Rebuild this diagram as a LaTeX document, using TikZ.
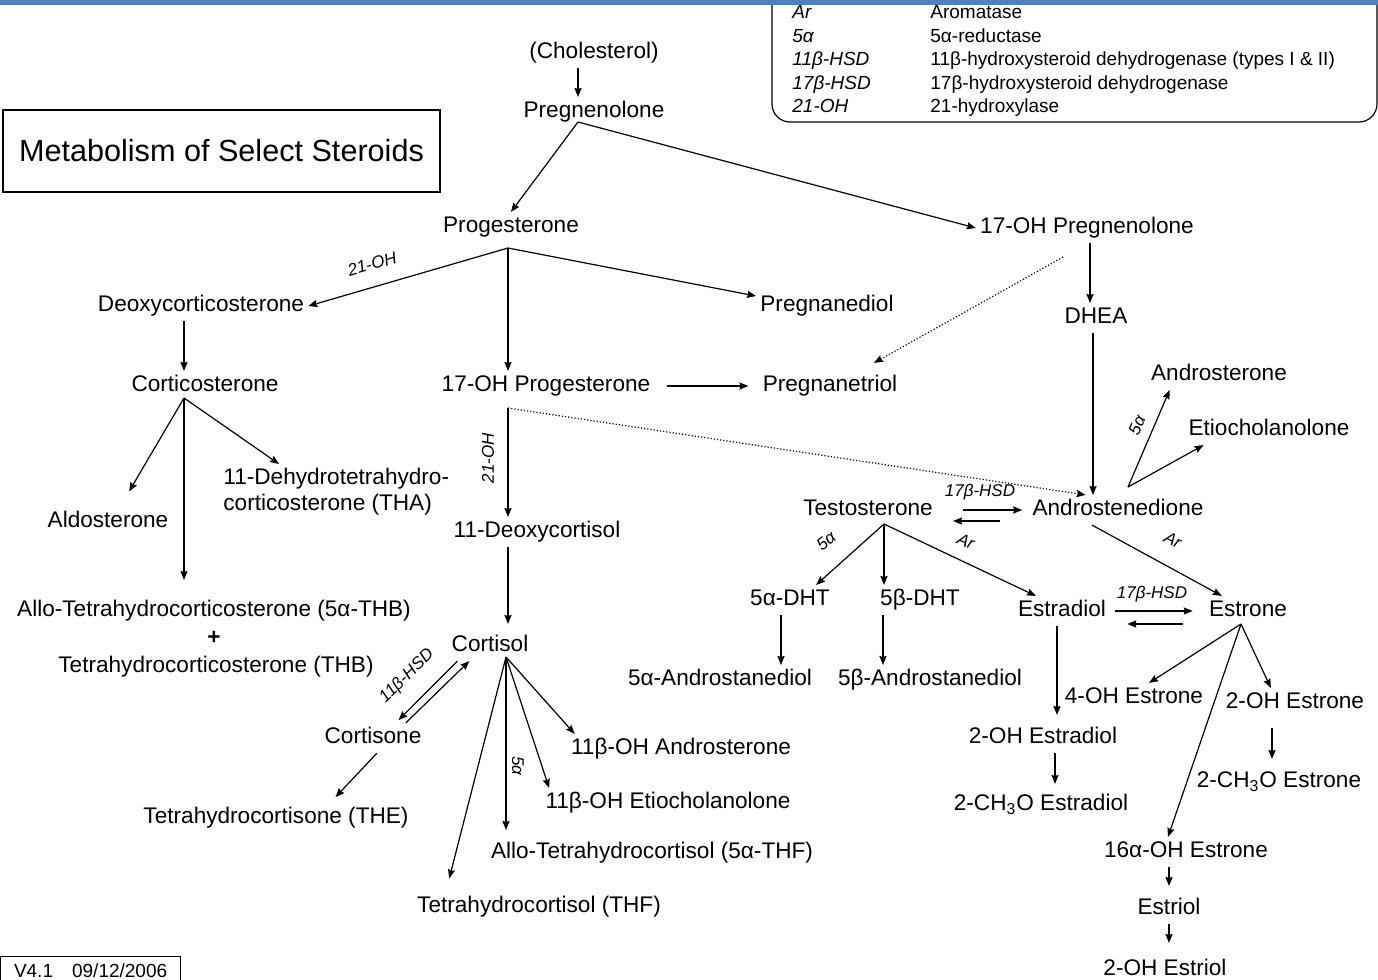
\documentclass[tikz,border=0pt]{standalone}
\usepackage{fontspec}
\setmainfont{Liberation Sans}
\usetikzlibrary{arrows.meta}
\definecolor{topbar}{RGB}{79,129,189}

\begin{document}
\begin{tikzpicture}[x=0.5pt,y=-0.5pt]
\tikzstyle{every node}+=[inner sep=2pt]
\tikzstyle{cmpd}=[font=\fontsize{11.3}{13}\selectfont, text height=8.3pt, text depth=2.4pt, yshift=-1pt]
\tikzstyle{enz}=[font=\fontsize{8.5}{10}\selectfont\itshape, inner sep=1pt]
\tikzstyle{arr}=[-{Stealth[length=4.5pt,width=3.6pt,inset=0.6pt]}, line width=0.6pt]
\tikzstyle{dotarr}=[arr, densely dotted]
\tikzstyle{key}=[font=\fontsize{9.5}{11}\selectfont, anchor=west, inner sep=0pt, text height=7pt, text depth=2pt]
\tikzstyle{keyi}=[key, font=\fontsize{9.5}{11}\selectfont\itshape]
\useasboundingbox (0,0) rectangle (1378,980);
% legend
\draw [line width=0.6pt, rounded corners=9pt] (772,-20) rectangle (1377,122);
\node [keyi] (kar) at (792,13) {Ar};
\node [key] (kard) at (930,13) {Aromatase};
\node [keyi] (kfa) at (792,37) {5α};
\node [key] (kfad) at (930,37) {5α-reductase};
\node [keyi] (kel) at (792,60) {11β-HSD};
\node [key] (keld) at (930,60) {11β-hydroxysteroid dehydrogenase (types I \& II)};
\node [keyi] (ksv) at (792,84) {17β-HSD};
\node [key] (ksvd) at (930,84) {17β-hydroxysteroid dehydrogenase};
\node [keyi] (ktw) at (792,107) {21-OH};
\node [key] (ktwd) at (930,107) {21-hydroxylase};
\fill [topbar] (0,0) rectangle (1378,5);
% title and version
\node [draw, line width=1.1pt, minimum width=218.5pt, minimum height=41pt, font=\fontsize{15.3}{18}\selectfont] (title) at (221.5,151) {Metabolism of Select Steroids};
\node [draw, line width=0.6pt, anchor=north west, minimum width=90pt, minimum height=14pt, inner sep=1pt, font=\fontsize{9.5}{11}\selectfont] (ver) at (0,956) {V4.1\quad 09/12/2006};
% compounds
\node [cmpd] (chol) at (594,51) {(Cholesterol)};
\node [cmpd] (preg) at (594,110) {Pregnenolone};
\node [cmpd] (prog) at (511,225) {Progesterone};
\node [cmpd] (ohpreg) at (1087,226) {17-OH Pregnenolone};
\node [cmpd] (doc) at (201,304) {Deoxycorticosterone};
\node [cmpd] (pdiol) at (827,304) {Pregnanediol};
\node [cmpd] (dhea) at (1096,316) {DHEA};
\node [cmpd] (cortic) at (205,384) {Corticosterone};
\node [cmpd] (ohprog) at (546,384) {17-OH Progesterone};
\node [cmpd] (ptriol) at (830,384) {Pregnanetriol};
\node [cmpd] (aster) at (1219,373) {Androsterone};
\node [cmpd] (etio) at (1269,428) {Etiocholanolone};
\node [font=\fontsize{11.3}{13}\selectfont, align=left, anchor=north west] (tha) at (219,464) {11-Dehydrotetrahydro-\\corticosterone (THA)};
\node [cmpd] (aldo) at (108,520) {Aldosterone};
\node [cmpd] (doxc) at (537,530) {11-Deoxycortisol};
\node [cmpd] (testo) at (868,508) {Testosterone};
\node [cmpd] (andro) at (1118,508) {Androstenedione};
\node [cmpd] (dhta) at (790,598) {5α-DHT};
\node [cmpd] (dhtb) at (920,598) {5β-DHT};
\node [cmpd] (estd) at (1062,609) {Estradiol};
\node [cmpd] (estn) at (1248,609) {Estrone};
\node [cmpd] (athb) at (214,609) {Allo-Tetrahydrocorticosterone (5α-THB)};
\node [cmpd] (plus) at (214,637) {\textbf{+}};
\node [cmpd] (thb) at (216,665) {Tetrahydrocorticosterone (THB)};
\node [cmpd] (cortisol) at (490,644) {Cortisol};
\node [cmpd] (adiola) at (720,678) {5α-Androstanediol};
\node [cmpd] (adiolb) at (930,678) {5β-Androstanediol};
\node [cmpd] (ohe4) at (1134,696) {4-OH Estrone};
\node [cmpd] (ohe2) at (1295,701) {2-OH Estrone};
\node [cmpd] (cortisone) at (373,736) {Cortisone};
\node [cmpd] (ohed) at (1043,736) {2-OH Estradiol};
\node [cmpd] (oha) at (681,747) {11β-OH Androsterone};
\node [cmpd] (meoe) at (1279,780) {2-CH\textsubscript{3}O Estrone};
\node [cmpd] (ohetio) at (668,801) {11β-OH Etiocholanolone};
\node [cmpd] (meod) at (1041,803) {2-CH\textsubscript{3}O Estradiol};
\node [cmpd] (the) at (276,816) {Tetrahydrocortisone (THE)};
\node [cmpd] (ohe16) at (1186,850) {16α-OH Estrone};
\node [cmpd] (athf) at (652,851) {Allo-Tetrahydrocortisol (5α-THF)};
\node [cmpd] (thf) at (539,905) {Tetrahydrocortisol (THF)};
\node [cmpd] (estriol) at (1169,907) {Estriol};
\node [cmpd] (ohestriol) at (1165,968) {2-OH Estriol};
% fork points
\coordinate (pregB) at (578,122);
\coordinate (progB) at (508,248);
\coordinate (corticB) at (184,398);
\coordinate (ohprogB) at (508,408);
\coordinate (androB) at (1128,487);
\coordinate (testoB) at (884,524);
\coordinate (estnB) at (1241,624);
\coordinate (cortisolB) at (506,657);
% upper part
\draw [arr] (chol.south -| pregB) -- (preg.north -| pregB);
\draw [arr] (pregB) -- (prog.north);
\draw [arr] (pregB) -- (ohpreg.west);
\draw [arr] (progB) -- (doc.east);
\draw [arr] (progB) -- (ohprog.north -| progB);
\draw [arr] (progB) -- (pdiol.172);
\node [enz, rotate=16] (l21a) at (372,264) {21-OH};
\draw [arr] (doc.south -| corticB) -- (cortic.north -| corticB);
\draw [arr, shorten >=9pt] (corticB) -- ([xshift=6pt]aldo.north);
\draw [arr, shorten >=8pt] (corticB) -- (athb.north -| corticB);
\draw [arr] (corticB) -- ([xshift=30pt]tha.north west);
\draw [arr, shorten <=6pt, shorten >=5pt] (ohprog.east) -- (ptriol.west);
\draw [dotarr] (ohprogB) -- (andro.155);
\draw [arr] (ohprogB) -- (doxc.north -| ohprogB);
\node [enz, rotate=90] (l21b) at (488,458) {21-OH};
\draw [arr] (ohpreg.south -| 1090,0) -- (dhea.north -| 1090,0);
\draw [dotarr] ([xshift=-12pt,yshift=-7pt]ohpreg.south) -- ([xshift=22pt,yshift=4pt]ptriol.north);
\draw [arr] (dhea.south -| 1093,0) -- (andro.north -| 1093,0);
\draw [arr] (androB) -- (aster.197);
\draw [arr] (androB) -- (etio.193);
\node [enz, rotate=66] (l5a) at (1137,425) {5α};
% androgens and estrogens
\draw [arr, shorten <=13pt, shorten >=3pt] (testo.east) -- (andro.west);
\draw [arr, shorten <=14pt, shorten >=8pt] ([yshift=-5.5pt]andro.west) -- ([yshift=-5.5pt]testo.east);
\node [enz] (l17a) at (980,492) {17β-HSD};
\draw [arr] (testoB) -- (dhta.30);
\draw [arr] (testoB) -- (dhtb.north -| testoB);
\draw [arr] (testoB) -- (estd.150);
\node [enz, rotate=38] (l5b) at (826,541) {5α};
\node [enz, rotate=-23] (lara) at (966,541) {Ar};
\draw [arr] ([xshift=-13pt]andro.south) -- (estn.150);
\node [enz, rotate=-26] (larb) at (1173,540) {Ar};
\draw [arr] (dhta.south -| 781,0) -- (adiola.north -| 781,0);
\draw [arr] (dhtb.south -| 883,0) -- (adiolb.north -| 883,0);
\draw [arr, shorten <=2.5pt, shorten >=6pt] (estd.east) -- (estn.west);
\draw [arr, shorten <=11pt, shorten >=8.5pt] ([yshift=-6.5pt]estn.west) -- ([yshift=-6.5pt]estd.east);
\node [enz] (l17b) at (1152,594) {17β-HSD};
\draw [arr, shorten >=4pt] (estd.south -| 1057,0) -- (ohed.north -| 1057,0);
\draw [arr, shorten >=3pt] (ohed.south -| 1055,0) -- (meod.north -| 1055,0);
\draw [arr] (estnB) -- (ohe4.45);
\draw [arr] (estnB) -- (ohe2.148);
\draw [arr] (estnB) -- (ohe16.140);
\draw [arr, shorten <=5pt, shorten >=4pt] (ohe2.south -| 1272,0) -- (meoe.north -| 1272,0);
\draw [arr, shorten >=4pt] (ohe16.south -| 1169,0) -- (estriol.north -| 1169,0);
\draw [arr, shorten >=6pt] (estriol.south -| 1169,0) -- (ohestriol.north -| 1169,0);
% corticoids
\draw [arr, shorten >=3.5pt] (doxc.south -| 508,0) -- (cortisol.north -| 508,0);
\draw [arr, shorten >=2pt] ([xshift=5pt]cortisol.south west) -- ([xshift=-15pt]cortisone.north east);
\draw [arr] ([xshift=-10pt]cortisone.north east) -- ([xshift=11pt]cortisol.south west);
\node [enz, rotate=45] (l11) at (407,676) {11β-HSD};
\draw [arr, shorten >=7pt] (cortisolB) -- ([xshift=16.5pt]thf.north west);
\draw [arr, shorten >=4pt] (cortisolB) -- (athf.north -| cortisolB);
\node [enz, rotate=-90] (l5c) at (518,766) {5α};
\draw [arr] (cortisolB) -- ([xshift=4pt]ohetio.north west);
\draw [arr] (cortisolB) -- ([xshift=4pt]oha.north west);
\draw [arr, shorten >=4pt] ([xshift=2pt]cortisone.south) -- ([xshift=27pt]the.north);
\end{tikzpicture}
\end{document}
